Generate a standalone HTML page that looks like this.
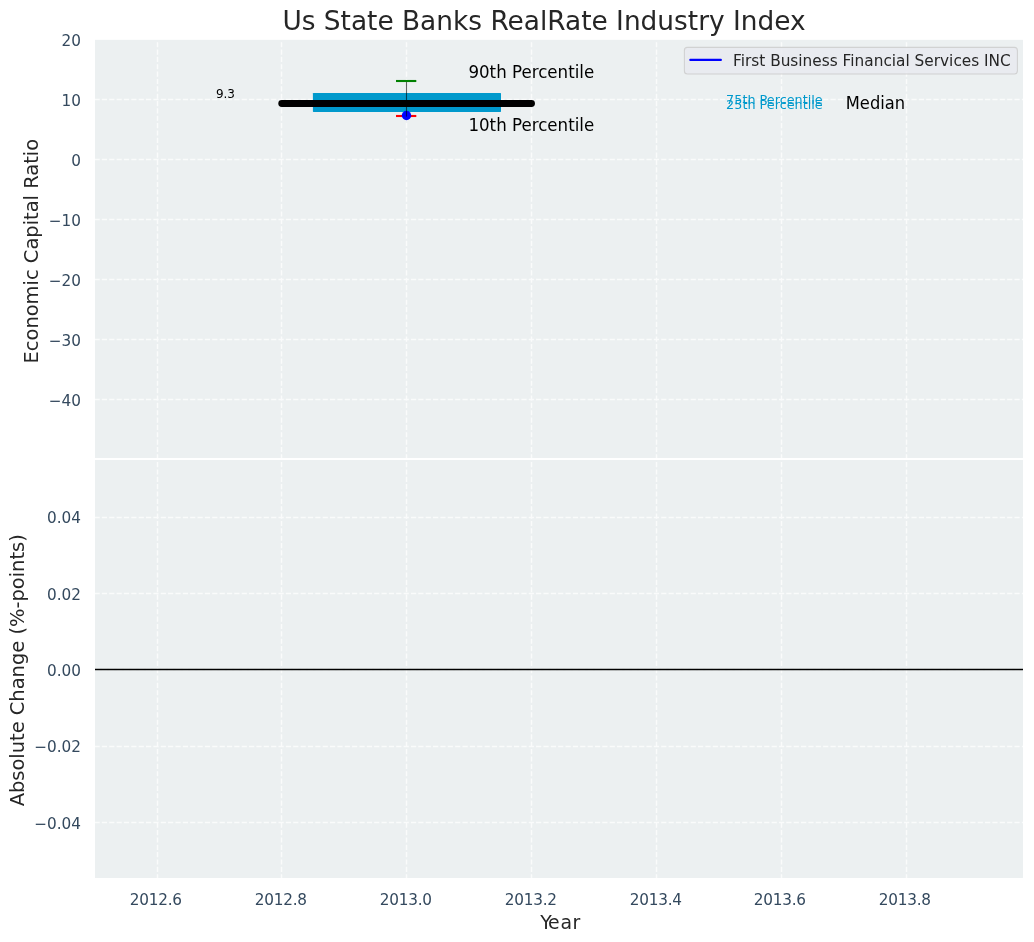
<!DOCTYPE html>
<html>
<head>
<meta charset="utf-8">
<title>Us State Banks RealRate Industry Index</title>
<style>
html,body{margin:0;padding:0;background:#fff;}
body{width:1034px;height:942px;overflow:hidden;}
svg{display:block;}
text{font-family:"DejaVu Sans","Liberation Sans",sans-serif;}
.tick{font-size:15.28px;fill:#34495e;}
.grid{stroke:#fff;stroke-width:1.39;stroke-dasharray:5.14 2.22;opacity:.75;fill:none;}
.lab{font-size:19.44px;fill:#262626;}
</style>
</head>
<body>
<svg width="1034" height="942" viewBox="0 0 1034 942">
<rect x="0" y="0" width="1034" height="942" fill="#ffffff"/>
<!-- axes backgrounds -->
<rect x="95" y="39.85" width="927.95" height="838.1" fill="#ecf0f1"/>
<!-- grids -->
<g class="grid">
<path d="M157.5 459.43V40M281.5 459.43V40M406.5 459.43V40M531.5 459.43V40M656.5 459.43V40M781.5 459.43V40M906.5 459.43V40"/>
<path d="M94.51 99.5H1023M94.51 159.5H1023M94.51 219.5H1023M94.51 279.5H1023M94.51 339.5H1023M94.51 399.5H1023"/>
<path d="M157.5 879.33V460M281.5 879.33V460M406.5 879.33V460M531.5 879.33V460M656.5 879.33V460M781.5 879.33V460M906.5 879.33V460"/>
<path d="M94.51 517.5H1023M94.51 593.5H1023M94.51 669.5H1023M94.51 746.5H1023M94.51 822.5H1023"/>
</g>
<!-- separator spine -->
<rect x="94" y="458" width="930" height="2" fill="#ffffff"/>
<!-- zero line bottom -->
<path d="M95 669.5H1023" stroke="#000" stroke-width="1.39" fill="none"/>
<!-- box plot -->
<rect x="312.9" y="92.9" width="188.1" height="19" rx="0.6" fill="#0099cc"/>
<path d="M281.75 103.45H531.5" stroke="#000" stroke-width="6.9" stroke-linecap="round" fill="none"/>
<path d="M396 116H416.3" stroke="#ff0000" stroke-width="2.1" fill="none"/>
<circle cx="406.5" cy="115.55" r="4.7" fill="#0000ff"/>
<path d="M406.5 81V116.6" stroke="#000" stroke-width="1.1" opacity=".6" fill="none"/>
<path d="M396 81H416.3" stroke="#008000" stroke-width="2.1" fill="none"/>
<!-- annotations -->
<text x="215.9" y="98" font-size="12px" fill="#000">9.3</text>
<text x="468.4" y="78" font-size="18.06px" fill="#000" textLength="125.8" lengthAdjust="spacingAndGlyphs">90th Percentile</text>
<text x="468.4" y="131" font-size="18.06px" fill="#000" textLength="125.8" lengthAdjust="spacingAndGlyphs">10th Percentile</text>
<text x="726.1" y="104" font-size="12.8px" fill="#0099cc">75th Percentile</text>
<text x="726.1" y="109" font-size="12.8px" fill="#0099cc">25th Percentile</text>
<text x="845.8" y="109" font-size="18.06px" fill="#000" textLength="59.3" lengthAdjust="spacingAndGlyphs">Median</text>
<!-- legend -->
<rect x="684.4" y="47.4" width="333" height="26.6" rx="3" ry="3" fill="#e8eaf0" fill-opacity=".8" stroke="#cccccc" stroke-opacity=".85" stroke-width="1.1"/>
<path d="M690.3 59.9H720.9" stroke="#0000ff" stroke-width="2.08" stroke-linecap="round" fill="none"/>
<text x="733" y="66" font-size="15.33px" fill="#262626">First Business Financial Services INC</text>
<!-- title -->
<text x="544" y="30" font-size="26.39px" fill="#262626" text-anchor="middle">Us State Banks RealRate Industry Index</text>
<!-- y tick labels -->
<g class="tick" text-anchor="end">
<text x="81" y="46">20</text>
<text x="81" y="106">10</text>
<text x="81" y="166">0</text>
<text x="81" y="226">−10</text>
<text x="81" y="286">−20</text>
<text x="81" y="346">−30</text>
<text x="81" y="406">−40</text>
<text x="81" y="523">0.04</text>
<text x="81" y="600">0.02</text>
<text x="81" y="676">0.00</text>
<text x="81" y="752">−0.02</text>
<text x="81" y="829">−0.04</text>
</g>
<g class="tick" text-anchor="start">
<text x="129.7" y="905" textLength="52.3">2012.6</text>
<text x="254.7" y="905" textLength="52.3">2012.8</text>
<text x="379.7" y="905" textLength="52.3">2013.0</text>
<text x="504.7" y="905" textLength="52.3">2013.2</text>
<text x="629.7" y="905" textLength="52.3">2013.4</text>
<text x="753.7" y="905" textLength="52.3">2013.6</text>
<text x="878.7" y="905" textLength="52.3">2013.8</text>
</g>
<text x="540.3" y="929" font-size="18.9px" fill="#262626" dx="0 -1.4 0.85 0.6">Year</text>
<text class="lab" transform="translate(38 251.2) rotate(-90)" text-anchor="middle">Economic Capital Ratio</text>
<text class="lab" transform="translate(23.9 670.3) rotate(-90)" text-anchor="middle">Absolute Change (%-points)</text>
</svg>
</body>
</html>
